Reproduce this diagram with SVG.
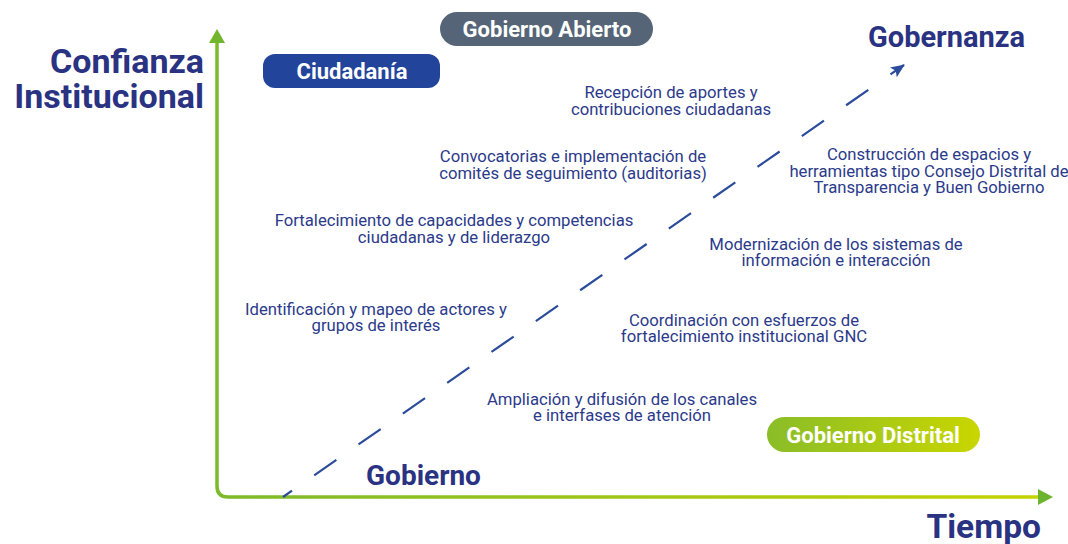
<svg xmlns="http://www.w3.org/2000/svg" width="1068" height="544" viewBox="0 0 1068 544">
<style>
.title{font-family:Roboto,"Liberation Sans",sans-serif;font-weight:700;fill:#2a3282}
.pill{font-family:Roboto,"Liberation Sans",sans-serif;font-weight:700;font-size:22px;fill:#ffffff;text-anchor:middle}
.body{font-family:Roboto,"Liberation Sans",sans-serif;font-size:16.7px;fill:#2b3a8a;text-anchor:middle}
.axis{fill:none;stroke-width:3.5}
.dash{fill:none;stroke:#2a4c9b;stroke-width:2.2;stroke-dasharray:27 27;stroke-dashoffset:16}
</style>
<defs>
<linearGradient id="axisGrad" gradientUnits="userSpaceOnUse" x1="216" y1="0" x2="1045" y2="0">
<stop offset="0" stop-color="#7cb92c"/>
<stop offset="1" stop-color="#c5d400"/>
</linearGradient>
<linearGradient id="distGrad" x1="0" y1="0" x2="1" y2="0">
<stop offset="0" stop-color="#8abd28"/>
<stop offset="1" stop-color="#c9d600"/>
</linearGradient>
<marker id="dashHead" markerWidth="14" markerHeight="14" viewBox="0 0 14 14" refX="13" refY="7" orient="auto" markerUnits="userSpaceOnUse">
<path d="M0,1 L14,7 L0,13 L3,7 Z" fill="#2a4c9b"/>
</marker>
</defs>
<rect width="1068" height="544" fill="#ffffff"/>

<g id="connectors">
<path class="axis" stroke="url(#axisGrad)" d="M217,42 V486 Q217,497 228,497 H1040"/>
<path d="M217,29 L209,43 L225,43 Z" fill="#72b62e"/>
<path d="M1053,497 L1038,489 L1038,505 Z" fill="#6cb42f"/>
<path class="dash" d="M283,497 L904,65" marker-end="url(#dashHead)"/>
</g>

<g id="confianza">
<text class="title" font-size="34" text-anchor="end"><tspan x="204" y="73">Confianza</tspan><tspan x="204" y="108">Institucional</tspan></text>
</g>
<g id="tiempo">
<text class="title" font-size="33.5" text-anchor="end" x="1041" y="538">Tiempo</text>
</g>
<g id="gobernanza">
<text class="title" font-size="29" x="868" y="47">Gobernanza</text>
</g>
<g id="gobierno">
<text class="title" font-size="28" x="366" y="485">Gobierno</text>
</g>

<g id="gobierno-abierto">
<rect x="440" y="12" width="213" height="34" rx="17" fill="#556577"/>
<text class="pill" x="547" y="36.5">Gobierno Abierto</text>
</g>
<g id="ciudadania">
<rect x="263" y="54" width="177" height="34" rx="12" fill="#22449a"/>
<text class="pill" x="352" y="79">Ciudadanía</text>
</g>
<g id="gobierno-distrital">
<rect x="767" y="417" width="213" height="35" rx="17.5" fill="url(#distGrad)"/>
<text class="pill" x="873" y="442.5">Gobierno Distrital</text>
</g>

<g id="recepcion">
<text class="body"><tspan x="671" y="98">Recepción de aportes y</tspan><tspan x="671" y="115">contribuciones ciudadanas</tspan></text>
</g>
<g id="convocatorias">
<text class="body"><tspan x="573" y="162">Convocatorias e implementación de</tspan><tspan x="573" y="178.5">comités de seguimiento (auditorias)</tspan></text>
</g>
<g id="fortalecimiento">
<text class="body"><tspan x="454" y="226">Fortalecimiento de capacidades y competencias</tspan><tspan x="454" y="242.5">ciudadanas y de liderazgo</tspan></text>
</g>
<g id="identificacion">
<text class="body"><tspan x="376" y="315">Identificación y mapeo de actores y</tspan><tspan x="376" y="331">grupos de interés</tspan></text>
</g>
<g id="construccion">
<text class="body"><tspan x="929" y="160">Construcción de espacios y</tspan><tspan x="929" y="176.5">herramientas tipo Consejo Distrital de</tspan><tspan x="929" y="193">Transparencia y Buen Gobierno</tspan></text>
</g>
<g id="modernizacion">
<text class="body"><tspan x="836" y="249.5">Modernización de los sistemas de</tspan><tspan x="836" y="266">información e interacción</tspan></text>
</g>
<g id="coordinacion">
<text class="body"><tspan x="744" y="325.5">Coordinación con esfuerzos de</tspan><tspan x="744" y="342">fortalecimiento institucional GNC</tspan></text>
</g>
<g id="ampliacion">
<text class="body"><tspan x="622" y="405">Ampliación y difusión de los canales</tspan><tspan x="622" y="421">e interfases de atención</tspan></text>
</g>
</svg>
